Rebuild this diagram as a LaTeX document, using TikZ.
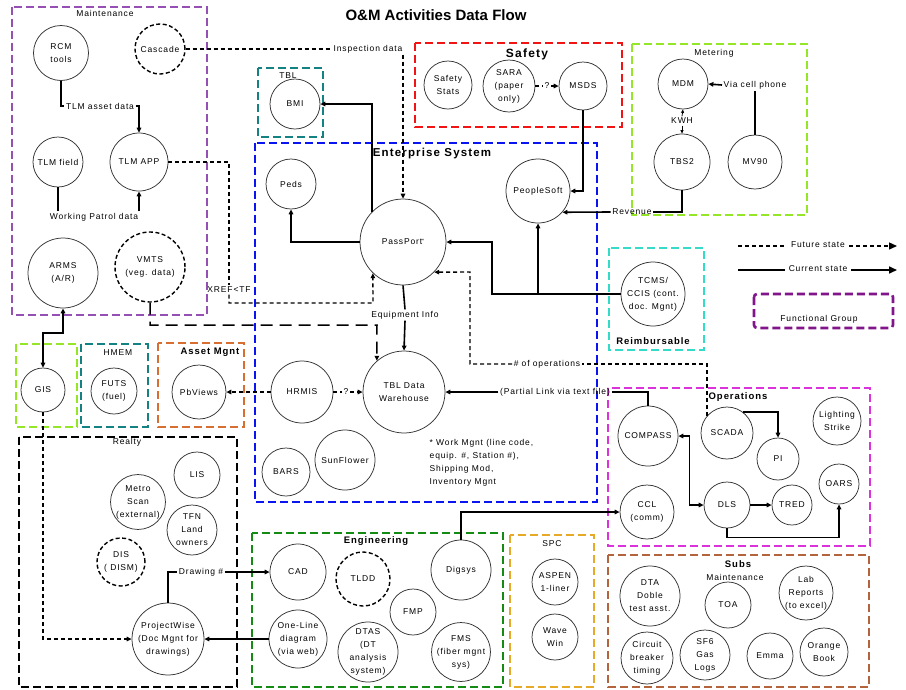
\documentclass[tikz,border=0pt]{standalone}
\usepackage{fontspec}
\setmainfont{Liberation Sans}[LetterSpace=10]
\newfontfamily\ttlfont{Liberation Sans}
\usetikzlibrary{arrows.meta}
\definecolor{cMaint}{RGB}{150,80,180}
\definecolor{cSafety}{RGB}{240,20,20}
\definecolor{cMeter}{RGB}{150,230,40}
\definecolor{cTeal}{RGB}{20,130,130}
\definecolor{cEnt}{RGB}{10,20,240}
\definecolor{cReimb}{RGB}{50,220,200}
\definecolor{cFunc}{RGB}{130,20,140}
\definecolor{cAsset}{RGB}{215,110,50}
\definecolor{cOps}{RGB}{220,50,220}
\definecolor{cEng}{RGB}{20,140,20}
\definecolor{cSPC}{RGB}{230,170,40}
\definecolor{cSubs}{RGB}{180,100,60}
\newcommand{\fsmall}{\fontsize{8.5}{13}\selectfont}
\newcommand{\fbold}{\fontsize{9.5}{11}\selectfont\bfseries}
\begin{document}
\begin{tikzpicture}[x=1pt,y=-1pt,
  >={Triangle[length=5pt,width=4.5pt]},
  sys/.style={circle,draw=black!80,line width=0.75pt,inner sep=0pt,align=center,font=\fsmall,minimum size=#1pt},
  fsys/.style={sys=#1,dash pattern=on 4pt off 2.5pt,line width=1.4pt,draw=black},
  grp/.style={draw=#1,line width=2.6pt,dash pattern=on 8pt off 4pt},
  glbl/.style={font=\fsmall,inner sep=1.5pt},
  blbl/.style={font=\fbold,inner sep=1pt},
  cur/.style={line width=1.6pt},
  fut/.style={line width=1.4pt,dash pattern=on 4pt off 3pt},
  ldash/.style={line width=1.5pt,dash pattern=on 12pt off 7pt},
  thinl/.style={line width=0.8pt,-{Triangle[length=3.5pt,width=3pt]}},
  bigtip/.style={-{Triangle[length=8pt,width=7pt]}},
]
\useasboundingbox (0,0) rectangle (906,689);

% ---------- title ----------
\node[font=\ttlfont\fontsize{15}{17}\selectfont\bfseries] (title) at (436,15) {O\&M Activities Data Flow};

% ---------- group boxes ----------
\draw[grp=cMaint] (12,7) rectangle (207,315);
\draw[grp=cTeal] (258,68) rectangle (323,137);
\draw[grp=cSafety] (415,43) rectangle (622,127);
\draw[grp=cMeter] (632,44) rectangle (807,215);
\draw[grp=cEnt] (255,143) rectangle (597,502);
\draw[grp=cReimb] (609,248) rectangle (704,350);
\draw[grp=cFunc,rounded corners=3pt] (754,294) rectangle (893,328);
\draw[grp=cMeter] (16,344) rectangle (77,427);
\draw[grp=cTeal] (81,344) rectangle (148,427);
\draw[grp=cAsset] (158,343) rectangle (244,427);
\draw[grp=black] (19,437) rectangle (237,687);
\draw[grp=cEng] (252,533) rectangle (503,687);
\draw[grp=cSPC] (510,535) rectangle (594,687);
\draw[grp=cOps] (608,388) rectangle (870,546);
\draw[grp=cSubs] (608,555) rectangle (869,687);

% ---------- group labels ----------
\node[glbl] (lMaint) at (105,13) {Maintenance};
\node[glbl] (lTBL) at (288,76) {TBL};
\node[font=\fontsize{12}{14}\selectfont\bfseries] (lSafety) at (527,54) {Safety};
\node[glbl] (lMeter) at (714,53) {Metering};
\node[font=\fontsize{11.5}{13}\selectfont\bfseries] (lEnt) at (432,154) {Enterprise System};
\node[blbl] (lReimb) at (653,341) {Reimbursable};
\node[glbl] (lFunc) at (819,319) {Functional Group};
\node[glbl] (lHMEM) at (118,353) {HMEM};
\node[blbl] (lAsset) at (210,352) {Asset Mgnt};
\node[glbl] (lRealty) at (127,442) {Realty};
\node[blbl] (lEng) at (376,541) {Engineering};
\node[glbl] (lSPC) at (552,544) {SPC};
\node[blbl] (lOps) at (738,397) {Operations};
\node[blbl] (lSubs) at (738,564) {Subs};
\node[glbl] (lSubsM) at (735,577) {Maintenance};

% ---------- systems ----------
% Maintenance
\node[sys=55] (rcm) at (61,53) {RCM\\tools};
\node[fsys=50] (cascade) at (160,49) {Cascade};
\node[sys=58] (tlmapp) at (139,162) {TLM APP};
\node[sys=50] (tlmfield) at (58,162) {TLM field};
\node[sys=70] (arms) at (63,273) {ARMS\\(A/R)};
\node[fsys=70] (vmts) at (150,267) {VMTS\\(veg. data)};
% TBL
\node[sys=50] (bmi) at (295,104) {BMI};
% Safety
\node[sys=48] (sstats) at (448,85) {Safety\\Stats};
\node[sys=52] (sara) at (509,86) {SARA\\(paper\\only)};
\node[sys=48] (msds) at (583,86) {MSDS};
% Metering
\node[sys=50] (mdm) at (683,84) {MDM};
\node[sys=56] (tbs2) at (682,162) {TBS2};
\node[sys=54] (mv90) at (755,162) {MV90};
% Enterprise
\node[sys=50] (peds) at (291,184) {Peds};
\node[sys=86] (passport) at (403,242) {PassPort\raisebox{2.5pt}{\fontsize{5}{5}\selectfont *}};
\node[sys=64] (psoft) at (538,191) {PeopleSoft};
\node[sys=82] (twh) at (404,392) {TBL Data\\Warehouse};
\node[sys=62] (hrmis) at (302,392) {HRMIS};
\node[sys=48] (bars) at (286,472) {BARS};
\node[sys=60] (sunflower) at (345,460) {SunFlower};
\node[glbl,align=left,anchor=north west] (note) at (428,438) {* Work Mgnt (line code,\\equip. \#, Station \#),\\Shipping Mod,\\Inventory Mgnt};
% Reimbursable
\node[sys=64] (tcms) at (653,294) {TCMS/\\CCIS (cont.\\doc. Mgnt)};
% GIS, HMEM, Asset Mgnt
\node[sys=44] (gis) at (43,390) {GIS};
\node[sys=46] (futs) at (114,391) {FUTS\\(fuel)};
\node[sys=54] (pbv) at (199,392) {PbViews};
% Realty
\node[sys=46] (lis) at (197,475) {LIS};
\node[sys=54] (metro) at (138,502) {Metro\\Scan\\(external)};
\node[sys=50] (tfn) at (192,530) {TFN\\Land\\owners};
\node[fsys=48] (dis) at (121,562) {DIS\\( DISM)};
\node[sys=72] (pw) at (168,639) {ProjectWise\\(Doc Mgnt for\\drawings)};
% Engineering
\node[sys=56] (cad) at (298,572) {CAD};
\node[fsys=54] (tldd) at (363,579) {TLDD};
\node[sys=60] (digsys) at (461,570) {Digsys};
\node[sys=46] (fmp) at (413,612) {FMP};
\node[sys=58] (oneline) at (298,639) {One-Line\\diagram\\(via web)};
\node[sys=60] (dtas) at (368,652) {DTAS\\(DT\\analysis\\system)};
\node[sys=58] (fms) at (461,652) {FMS\\(fiber mgnt\\sys)};
% SPC
\node[sys=46] (aspen) at (555,582) {ASPEN\\1-liner};
\node[sys=46] (wave) at (555,637) {Wave\\Win};
% Operations
\node[sys=60] (compass) at (648,436) {COMPASS};
\node[sys=52] (scada) at (727,433) {SCADA};
\node[sys=42] (pi) at (778,459) {PI};
\node[sys=48] (lstrike) at (837,421) {Lighting\\Strike};
\node[sys=54] (ccl) at (647,512) {CCL\\(comm)};
\node[sys=46] (dls) at (727,505) {DLS};
\node[sys=40] (tred) at (792,505) {TRED};
\node[sys=40] (oars) at (839,484) {OARS};
% Subs
\node[sys=60] (dta) at (650,596) {DTA\\Doble\\test asst.};
\node[sys=46] (toa) at (728,605) {TOA};
\node[sys=54] (lab) at (806,593) {Lab\\Reports\\(to excel)};
\node[sys=52] (cbt) at (647,658) {Circuit\\breaker\\timing};
\node[sys=50] (sf6) at (705,655) {SF6\\Gas\\Logs};
\node[sys=46] (emma) at (770,656) {Emma};
\node[sys=48] (orange) at (824,652) {Orange\\Book};

% ---------- connector labels ----------
\node[glbl] (tad) at (100,106) {TLM asset data};
\node[glbl] (wpd) at (94,217) {Working Patrol data};
\node[glbl] (insp) at (368,49) {Inspection data};
\node[glbl] (xref) at (229,290) {XREF<TF};
\node[glbl] (eqi) at (405,315) {Equipment Info};
\node[glbl] (q1) at (346,392) {?};
\node[glbl] (q2) at (547,86) {?};
\node[glbl] (rev) at (632,212) {Revenue};
\node[glbl] (vcp) at (755,85) {Via cell phone};
\node[glbl] (kwh) at (682,121) {KWH};
\node[glbl] (ops) at (547,364) {\# of operations};
\node[glbl] (plk) at (555,392) {(Partial Link via text file)};
\node[glbl] (dwg) at (201,572) {Drawing \#};

% ---------- connectors ----------
\coordinate (xr) at (373,303);
\coordinate (vm1) at (150,325);
\coordinate (vm2) at (377,325);
\coordinate (ag) at (43,333);
\coordinate (tj) at (492,294);
\coordinate (opc) at (470,272);

\draw[cur] (rcm.south) |- (tad.west);
\draw[cur,->] (tad.east) -| (tlmapp.north);
\draw[cur] (tlmfield.south) -- (tlmfield.south |- wpd.north);
\draw[cur,->] (wpd.north -| tlmapp.south) -- (tlmapp.south);
\draw[fut] (cascade.east) -- (insp.west);
\draw[fut,->] (insp.south -| passport.north) -- (passport.north);
\draw[fut] (tlmapp.east) -| (xref.north);
\draw[fut,->] (xref.south) |- (xr) -- (passport.226);
\draw[ldash,->] (vmts.south) -- (vm1) -- (vm2) -- (twh.131);
\draw[cur,<->] (arms.south) |- (ag) -- (gis.north);
\draw[fut,->] (gis.south) |- (pw.west);
\draw[cur] (pw.north) |- (dwg.west);
\draw[cur,->] (dwg.east) -- (cad.west);
\draw[cur,->] (oneline.west) -- (pw.east);

\draw[cur,->] (passport.west) -| (peds.south);
\draw[cur,->] (passport.136) |- (bmi.east);
\draw[cur,->] (msds.south) |- (psoft.east);
\draw[cur] (tbs2.south) |- (rev.east);
\draw[cur,->] (rev.west) -- (psoft.319);
\draw[cur,->] (tcms.west) -- (tj) |- (passport.east);
\draw[cur,->] (psoft.south |- tj) -- (psoft.south);
\draw[cur] (passport.south) -- (eqi.north);
\draw[cur,->] (eqi.south) -- (twh.north);
\draw[fut,->] (hrmis.west) -- (pbv.east);
\draw[fut] (hrmis.east) -- (q1.west);
\draw[fut,->] (q1.east) -- (twh.west);
\draw[fut] (sara.east) -- (q2.west);
\draw[fut,->] (q2.east) -- (msds.west);
\draw[cur] (mv90.north) -- (mv90.north |- vcp.south);
\draw[cur,->] (vcp.west) -- (mdm.east);
\draw[thinl] (kwh.north) -- (mdm.south);
\draw[thinl] (kwh.south) -- (tbs2.north);

\draw[cur] (compass.north) |- (plk.east);
\draw[cur,->] (plk.west) -- (twh.east);
\draw[fut] (scada.140) |- (ops.east);
\draw[fut,->] (ops.west) -| (opc) -- (passport.316);
\draw[cur,->] (scada.52) -| (pi.north);
\draw[cur,<->] (compass.east) -- ++(11,0) |- (dls.west);
\draw[cur,->] (dls.east) -- (tred.west);
\draw[cur,->] (dls.south) -- ++(0,9) -| (oars.south);
\draw[cur,->] (digsys.north) |- (ccl.west);

% ---------- legend ----------
\coordinate (lf1) at (738,246);
\coordinate (lf2) at (897,246);
\coordinate (lc1) at (738,270);
\coordinate (lc2) at (897,270);
\node[glbl,inner sep=4pt] (fsl) at (818,245) {Future state};
\node[glbl,inner sep=4pt] (csl) at (818,269) {Current state};
\draw[fut] (lf1) -- (fsl.west |- lf1);
\draw[fut,bigtip] (fsl.east |- lf1) -- (lf2);
\draw[cur] (lc1) -- (csl.west |- lc1);
\draw[cur,bigtip] (csl.east |- lc1) -- (lc2);
\end{tikzpicture}
\end{document}
